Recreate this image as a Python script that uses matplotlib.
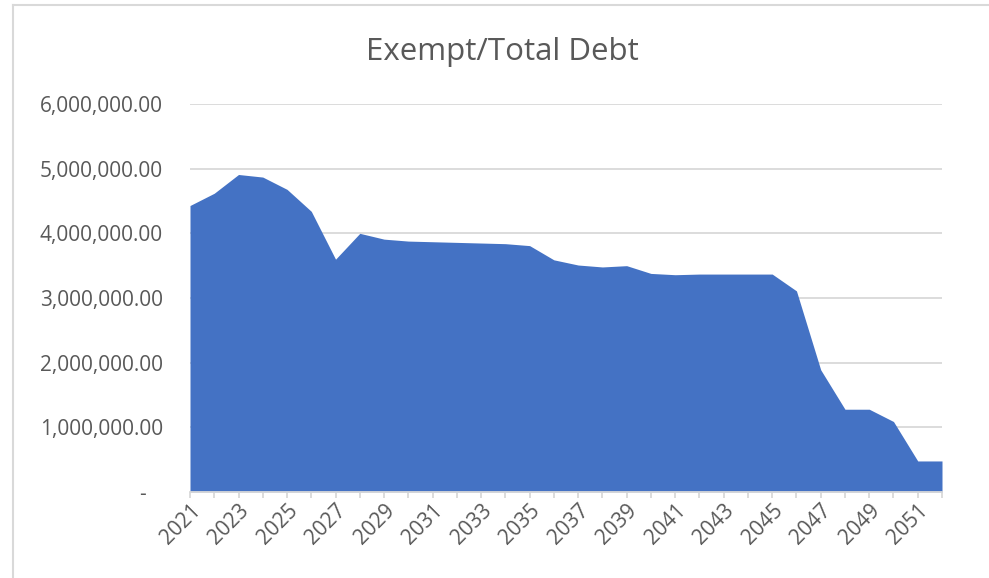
import matplotlib
matplotlib.use('Agg')
import matplotlib.pyplot as plt
from matplotlib.lines import Line2D
from matplotlib.ticker import FuncFormatter, MultipleLocator

plt.rcParams['font.family'] = ['Open Sans', 'DejaVu Sans']

years = list(range(2021, 2053))
debt = [4.43, 4.62, 4.91, 4.87, 4.68, 4.34, 3.60, 4.00, 3.91, 3.88,
        3.87, 3.86, 3.85, 3.84, 3.81, 3.59, 3.51, 3.48, 3.50, 3.38,
        3.36, 3.37, 3.37, 3.37, 3.37, 3.11, 1.89, 1.28, 1.28, 1.09,
        0.48, 0.48]
debt = [v * 1e6 for v in debt]
tick_years = years[::2]

text_col = '#595959'
grid_col = '#D9D9D9'

W, H = 989, 578
fig = plt.figure(figsize=(W / 100, H / 100), dpi=100)
ax = fig.add_axes([190 / W, 1 - 492 / H, (942 - 190) / W, (492 - 104) / H])

ax.fill_between(years, debt, 0, color='#4472C4', linewidth=0, zorder=2)
ax.set_xlim(years[0], years[-1])
ax.set_ylim(0, 6e6)

ax.yaxis.set_major_locator(MultipleLocator(1e6))
ax.yaxis.set_major_formatter(FuncFormatter(
    lambda v, p: '-   ' if v == 0 else '{:,.2f}'.format(v)))
ax.grid(axis='y', color=grid_col, linewidth=1.3, zorder=0)
ax.tick_params(axis='y', length=0, pad=19.5, labelsize=15, labelcolor=text_col)

ax.set_xticks(years, minor=True)
ax.set_xticks(tick_years)
ax.set_xticklabels([str(y) for y in tick_years], rotation=45,
                   ha='right', rotation_mode='anchor')
ax.tick_params(axis='x', which='both', length=4.5, color=grid_col, width=1.3,
               direction='out')
ax.tick_params(axis='x', labelsize=15, labelcolor=text_col, pad=1)

for s in ['top', 'right', 'left']:
    ax.spines[s].set_visible(False)
ax.spines['bottom'].set_color(grid_col)
ax.spines['bottom'].set_linewidth(1.3)
ax.set_axisbelow(True)

fig.text(0.5 * (363 + 642) / W, 1 - 60 / H, 'Exempt/Total Debt',
         ha='center', va='baseline', fontsize=22.5, color=text_col)

# chart-area border
fig.add_artist(Line2D([13 / W, 13 / W], [0, 1 - 5 / H],
                      transform=fig.transFigure, color=grid_col, linewidth=1.5))
fig.add_artist(Line2D([13 / W, 1], [1 - 5 / H, 1 - 5 / H],
                      transform=fig.transFigure, color=grid_col, linewidth=1.5))

fig.savefig('out.png', dpi=100)
